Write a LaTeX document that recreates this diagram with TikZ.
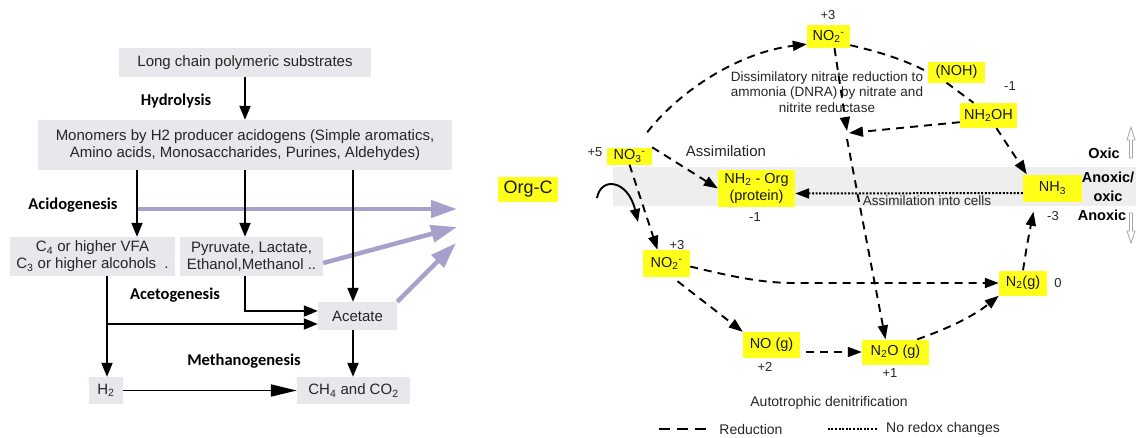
\documentclass[tikz,border=0pt]{standalone}
\usepackage{fontspec}
\setmainfont{Liberation Sans}
\newfontfamily\calfont{Carlito}
\usetikzlibrary{arrows.meta}
\definecolor{boxgray}{RGB}{231,231,236}
\definecolor{bandgray}{RGB}{238,238,238}
\definecolor{hl}{RGB}{255,255,25}
\definecolor{purp}{RGB}{166,160,202}
\definecolor{txt}{RGB}{38,38,38}
\begin{document}
\begin{tikzpicture}[x=1pt,y=-1pt,
  gbox/.style={fill=boxgray, text=txt, inner sep=0pt, align=center, font=\fontsize{15}{17}\selectfont},
  ybox/.style={fill=hl, inner sep=0pt, align=center, text=black!90, font=\fontsize{14.5}{17}\selectfont},
  stage/.style={font=\calfont\bfseries\fontsize{16.5}{18}\selectfont},
  num/.style={text=txt, font=\fontsize{13}{15}\selectfont},
  rtxt/.style={text=txt, font=\fontsize{14}{16}\selectfont},
  zone/.style={font=\bfseries\fontsize{14.5}{17}\selectfont},
  flow/.style={line width=1.9pt, -{Triangle[length=14pt,width=11pt]}},
  purparrow/.style={line width=4.5pt, purp, -{Triangle[length=26pt,width=17pt]}},
  reduc/.style={line width=1.9pt, dash pattern=on 8pt off 6pt, -{Triangle[length=14pt,width=10pt]}},
  reducline/.style={line width=1.9pt, dash pattern=on 8pt off 6pt},
  nored/.style={line width=2pt, dash pattern=on 2pt off 1.6pt},
  outarrow/.style={draw=gray!70, line width=0.8pt, fill=white}
]
\useasboundingbox (0,0) rectangle (1136,437);

% ---------------- left: anaerobic digestion ----------------
\node[gbox, minimum width=252pt, minimum height=29pt] (lcp) at (245,62.5) {Long chain polymeric substrates};
\node[gbox, minimum width=414pt, minimum height=50pt] (mono) at (245,145) {Monomers by H2 producer acidogens (Simple aromatics,\\Amino acids, Monosaccharides, Purines, Aldehydes)};
\node[gbox, minimum width=165pt, minimum height=39pt] (vfa) at (92.5,256.5) {C\textsubscript{4} or higher VFA\\C\textsubscript{3} or higher alcohols\ \ .};
\node[gbox, minimum width=143pt, minimum height=39pt] (pyr) at (251.5,256.5) {Pyruvate, Lactate,\\Ethanol,Methanol ..};
\node[gbox, minimum width=79pt, minimum height=28pt] (acet) at (357.5,316) {Acetate};
\node[gbox, minimum width=34pt, minimum height=27pt] (h2) at (106,390.5) {H\textsubscript{2}};
\node[gbox, minimum width=113pt, minimum height=27pt] (ch4) at (353.5,390.5) {CH\textsubscript{4} and CO\textsubscript{2}};

\node[stage] (hyd) at (176,101) {Hydrolysis};
\node[stage] (acid) at (73,205) {Acidogenesis};
\node[stage] (aceto) at (175,295) {Acetogenesis};
\node[stage] (meth) at (244,361) {Methanogenesis};

\coordinate (p1) at (457,209);
\coordinate (p2) at (457,227);
\coordinate (p3) at (456,243);
\draw[purparrow] (137,209) -- (p1);
\draw[purparrow] (pyr.east |- 0,263) -- (p2);
\draw[purparrow] (acet.north east) -- (p3);

\draw[flow] (lcp.south) -- (mono.north);
\draw[flow] (mono.south -| 137,0) -- (vfa.north -| 137,0);
\draw[flow] (mono.south) -- (mono.south |- pyr.north);
\draw[flow] (mono.south -| 353,0) -- (acet.north -| 353,0);
\draw[flow] (vfa.south -| 107,0) -- (h2.north -| 107,0);
\draw[flow] (107,324) -- (acet.west |- 0,324);
\draw[flow] (pyr.south -| 245,0) |- (acet.west |- 0,311);
\draw[flow] (acet.south -| 353,0) -- (ch4.north -| 353,0);
\draw[line width=1.9pt, -{Triangle[length=26pt,width=12pt]}] (h2.east) -- (ch4.west);

% ---------------- right: nitrogen cycle ----------------
\fill[bandgray] (613,167) rectangle (1136,206);

\node[ybox, minimum width=60pt, minimum height=25pt, font=\fontsize{18}{20}\selectfont] (orgc) at (528,189.5) {Org-C};
\node[ybox, minimum width=45pt, minimum height=17pt] (no3) at (629.5,156) {NO\textsubscript{3}\textsuperscript{-}};
\node[ybox, minimum width=77pt, minimum height=37pt] (nh2org) at (756.5,188.5) {NH\textsubscript{2} - Org\\(protein)};
\node[ybox, minimum width=43pt, minimum height=23pt] (no2a) at (828.5,36.5) {NO\textsubscript{2}\textsuperscript{-}};
\node[ybox, minimum width=57pt, minimum height=21pt] (noh) at (956.5,72) {(NOH)};
\node[ybox, minimum width=57pt, minimum height=25pt] (nh2oh) at (988.5,115.5) {NH\textsubscript{2}OH};
\node[ybox, minimum width=59pt, minimum height=27pt] (nh3) at (1052.5,188) {NH\textsubscript{3}};
\node[ybox, minimum width=47pt, minimum height=27pt] (no2b) at (666.5,263.5) {NO\textsubscript{2}\textsuperscript{-}};
\node[ybox, minimum width=57pt, minimum height=26pt] (no) at (771.5,345) {NO (g)};
\node[ybox, minimum width=67pt, minimum height=25pt] (n2o) at (895.5,352) {N\textsubscript{2}O (g)};
\node[ybox, minimum width=48pt, minimum height=25pt] (n2) at (1023,283) {N\textsubscript{2}(g)};

\node[num] (v5) at (595,152) {+5};
\node[num] (v3a) at (828,15) {+3};
\node[num] (vm1a) at (1010,86) {-1};
\node[num] (vm1b) at (755,217) {-1};
\node[num] (vm3) at (1053,216) {-3};
\node[num] (v3b) at (677,245) {+3};
\node[num] (v0) at (1058,283) {0};
\node[num] (v2) at (765,367) {+2};
\node[num] (v1) at (890,373) {+1};

\node[text=txt, font=\fontsize{15}{17}\selectfont] (assim) at (726,151) {Assimilation};
\node[text=txt, font=\fontsize{13.5}{15.5}\selectfont, align=center] (dnra) at (827,92) {Dissimilatory nitrate reduction to\\ammonia (DNRA) by nitrate and\\nitrite reductase};
\node[text=txt, font=\fontsize{13.5}{15}\selectfont] (aic) at (927,201) {Assimilation into cells};

\node[zone] (oxic) at (1104,153) {Oxic};
\node[zone] (anox1) at (1108,177) {Anoxic/};
\node[zone] (anox2) at (1108,196) {oxic};
\node[zone] (anox3) at (1102,215) {Anoxic};
\draw[outarrow] (1129.5,158) -- (1129.5,140) -- (1127,140) -- (1131,127) -- (1135,140) -- (1132.5,140) -- (1132.5,158) -- cycle;
\draw[outarrow] (1129.5,213) -- (1129.5,231) -- (1127,231) -- (1131,243) -- (1135,231) -- (1132.5,231) -- (1132.5,213) -- cycle;

\coordinate (J) at (847,133);

\draw[reduc] (no3.north east) -- (nh2org.west);
\draw[reduc] ([shift={(-5,-15)}]no3.north east) .. controls (680,90) and (740,52) .. ([shift={(0,-4)}]no2a.south west);
\draw[reducline] ([yshift=3pt]no2a.south east) .. controls (880,52) and (905,60) .. (noh.west);
\draw[reducline] ([xshift=-10pt]noh.south) -- ([xshift=-15pt]nh2oh.north);
\draw[reduc] ([xshift=8pt]nh2oh.south) -- ([xshift=4pt]nh3.north west);
\draw[reduc] ([yshift=6pt]nh2oh.south west) -- ([xshift=2pt]J);
\draw[reduc] ([xshift=6pt]no2a.south) -- ([yshift=2pt]J);
\draw[reduc] ([yshift=-6pt]J) -- ([xshift=-10pt]n2o.north);
\draw[reduc] (no3.south) -- ([xshift=-9pt]no2b.north);
\draw[line width=1.9pt, -{Triangle[length=13pt,width=10pt]}] (597,198) .. controls (601,176) and (628,180) .. (638,222);
\draw[reduc] ([yshift=-3pt]no2b.east) .. controls (730,276) and (760,283) .. (795,283) -- (n2.west);
\draw[reduc] ([shift={(11,4)}]no2b.south) -- (no.north west);
\draw[reduc] ([xshift=6pt]no.east |- n2o.west) -- (n2o.west);
\draw[reduc] ([xshift=-12pt]n2o.north east) .. controls (950,328) and (975,315) .. (n2.south west);
\draw[reduc] (n2.north) .. controls (1027,245) .. ([shift={(-19,10)}]nh3.south);
\draw[nored, -{Triangle[length=14pt,width=10pt]}] ([yshift=-5pt]nh3.west) -- ([yshift=-5pt]nh2org.east);

\node[rtxt] (auto) at (829,403) {Autotrophic denitrification};
\node[rtxt] (lred) at (751,429) {Reduction};
\node[rtxt] (lnored) at (943,428.5) {No redox changes};
\draw[reducline, dash pattern=on 11pt off 7pt] ([xshift=-10pt]lred.west) -- ++(-54,0);
\draw[nored] ([xshift=-6pt]lnored.west) -- ++(-50,0);
\end{tikzpicture}
\end{document}
